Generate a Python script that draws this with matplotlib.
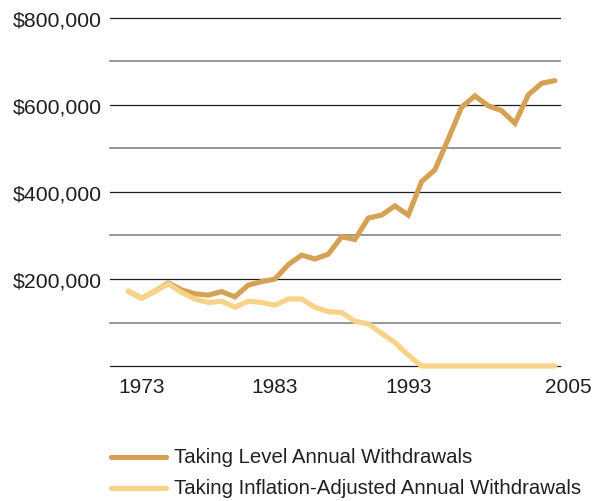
import matplotlib
matplotlib.use("Agg")
import matplotlib.pyplot as plt
from matplotlib.lines import Line2D

plt.rcParams['font.family'] = ['Liberation Sans', 'DejaVu Sans']

years = list(range(1972, 2005))
level = [172, 156, 172, 191, 175, 166, 163, 171, 159, 186, 194, 200, 233, 255,
         246, 257, 297, 291, 340, 347, 368, 347, 424, 451, 522, 595, 621, 598,
         587, 558, 623, 650, 656]
inflation = [172, 156, 172, 189, 169, 154, 146, 149, 135, 149, 146, 140, 154,
             154, 135, 125, 123, 103, 97, 75, 54, 25, 0, 0, 0, 0, 0, 0, 0, 0,
             0, 0, 0]
level = [v * 1000 for v in level]
inflation = [v * 1000 for v in inflation]

ytick_vals = [200000, 400000, 600000, 800000]
ytick_labels = ["$200,000", "$400,000", "$600,000", "$800,000"]
xtick_years = [1973, 1983, 1993, 2005]
series_names = ["Taking Level Annual Withdrawals",
                "Taking Inflation-Adjusted Annual Withdrawals"]

DARK = "#D4A155"
LIGHT = "#F8D289"
TEXT = "#231F20"

fig = plt.figure(figsize=(6.01, 5.02), dpi=100)
W, H = 601, 502
ax = fig.add_axes([110 / W, 1 - 367 / H, 450 / W, 348 / H])
x0, x1 = 1970.63, 2004.38
ax.set_xlim(x0, x1)
ax.set_ylim(0, 800000)

# grid lines
for v in range(0, 800001, 100000):
    major = (v % 200000 == 0)
    ax.axhline(v, color=TEXT if major else "#858585",
               lw=0.9 if major else 1.2, zorder=1, clip_on=False)

ax.plot(years, level, color=DARK, lw=3.7, solid_capstyle='round',
        solid_joinstyle='miter', zorder=3, clip_on=False)
ax.plot(years, inflation, color=LIGHT, lw=3.7, solid_capstyle='round',
        solid_joinstyle='miter', zorder=4, clip_on=False)

for s in ax.spines.values():
    s.set_visible(False)
ax.set_xticks([])
ax.set_yticks(ytick_vals)
ax.set_yticklabels(ytick_labels)
ax.tick_params(axis='y', length=0, pad=6, labelsize=15.3, labelcolor=TEXT)

for yr in xtick_years:
    ax.text(yr, -11 / 348 * 800000, str(yr), ha='center', va='top',
            fontsize=15, color=TEXT, clip_on=False)

# legend
for i, (name, col) in enumerate(zip(series_names, [DARK, LIGHT])):
    yy = 1 - (458 + 31 * i) / H
    fig.add_artist(Line2D([111 / W, 166 / W], [yy, yy], color=col, lw=3.7,
                          solid_capstyle='round'))
    fig.text(174 / W, yy, name, ha='left', va='center', fontsize=14.7,
             color=TEXT)

fig.savefig("out.png", dpi=100)
